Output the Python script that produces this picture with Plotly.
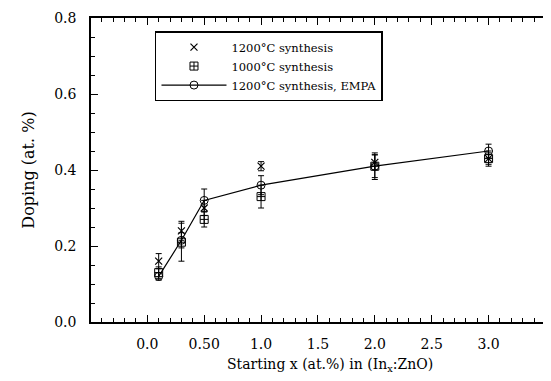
import plotly.graph_objects as go

# ---- data ----
x_vals = [0.1, 0.3, 0.5, 1.0, 2.0, 3.0]

s1200_y = [0.16, 0.24, 0.30, 0.41, 0.42, 0.43]
s1200_err = [0.02, 0.025, 0.02, 0.012, 0.02, 0.015]

s1000_y = [0.13, 0.21, 0.27, 0.33, 0.41, 0.43]
s1000_err = [0.015, 0.05, 0.02, 0.03, 0.03, 0.02]

empa_y = [0.12, 0.215, 0.32, 0.36, 0.41, 0.45]
empa_err = [0.01, 0.02, 0.03, 0.025, 0.035, 0.018]

x_tickvals = [0.0, 0.5, 1.0, 1.5, 2.0, 2.5, 3.0]
x_ticktext = ["0.0", "0.50", "1.0", "1.5", "2.0", "2.5", "3.0"]
y_tickvals = [0.0, 0.2, 0.4, 0.6, 0.8]
y_ticktext = ["0.0", "0.2", "0.4", "0.6", "0.8"]
right_tickvals = [0.05, 0.2, 0.35, 0.5, 0.65, 0.8]

FONT = "DejaVu Serif"
X_RANGE = [-0.495, 3.54]
Y_RANGE = [0.0, 0.8]

fig = go.Figure()


def err(arr):
    return dict(type="data", array=arr, visible=True, color="black",
                thickness=1, width=3)


fig.add_trace(go.Scatter(
    x=x_vals, y=s1200_y, mode="markers", name="1200°C synthesis",
    marker=dict(symbol="x-thin-open", size=7, color="black",
                line=dict(width=1.2, color="black")),
    error_y=err(s1200_err)))

fig.add_trace(go.Scatter(
    x=x_vals, y=s1000_y, mode="markers", name="1000°C synthesis",
    marker=dict(symbol="square-cross-open", size=8, color="black",
                line=dict(width=1, color="black")),
    error_y=err(s1000_err)))

fig.add_trace(go.Scatter(
    x=x_vals, y=empa_y, mode="lines+markers", name="1200°C synthesis, EMPA",
    line=dict(color="black", width=1.2),
    marker=dict(symbol="circle-open", size=8, color="black",
                line=dict(width=1, color="black")),
    error_y=err(empa_err)))

# invisible helper trace so the top / right frame axes are drawn
fig.add_trace(go.Scatter(
    x=x_vals, y=empa_y, mode="markers", xaxis="x2", yaxis="y2",
    marker=dict(opacity=0), showlegend=False, hoverinfo="skip"))

axis_common = dict(showgrid=False, zeroline=False, showline=True,
                   linecolor="black", linewidth=1.5, ticks="inside",
                   ticklen=7, tickwidth=1, tickcolor="black")

fig.update_layout(
    width=543, height=365,
    margin=dict(l=83, r=1, t=10, b=51),
    paper_bgcolor="white", plot_bgcolor="white",
    font=dict(family=FONT, size=14, color="black"),
    showlegend=True,
    legend=dict(x=0.1394, y=0.957, xanchor="left", yanchor="top",
                bordercolor="black", borderwidth=1.5, bgcolor="white",
                font=dict(family=FONT, size=11.5, color="black"),
                itemwidth=65, tracegroupgap=0),
    xaxis=dict(range=X_RANGE, tickvals=x_tickvals, ticktext=x_ticktext,
               minor=dict(dtick=0.1, tick0=0, ticks="inside", ticklen=4,
                          tickcolor="black", showgrid=False),
               tickfont=dict(size=14), ticklabelstandoff=8, **axis_common),
    yaxis=dict(range=Y_RANGE, tickvals=y_tickvals, ticktext=y_ticktext,
               minor=dict(dtick=0.05, tick0=0, ticks="inside", ticklen=4,
                          tickcolor="black", showgrid=False),
               title=dict(text="Doping (at. %)", font=dict(size=16), standoff=16),
               tickfont=dict(size=14), ticklabelstandoff=10, **axis_common),
    xaxis2=dict(range=X_RANGE, overlaying="x", side="top", anchor="y",
                tickvals=x_tickvals, showticklabels=False,
                minor=dict(dtick=0.1, tick0=0, ticks="inside", ticklen=4,
                           tickcolor="black", showgrid=False),
                **axis_common),
    yaxis2=dict(range=Y_RANGE, overlaying="y", side="right", anchor="x",
                tickvals=right_tickvals, showticklabels=False,
                minor=dict(dtick=0.0375, tick0=0.05, ticks="inside", ticklen=4,
                           tickcolor="black", showgrid=False),
                **axis_common),
    annotations=[dict(text="Starting x (at.%) in (In<sub>x</sub>:ZnO)",
                      xref="paper", yref="paper", x=0.521, y=0,
                      xanchor="center", yanchor="top", yshift=-32,
                      showarrow=False, font=dict(family=FONT, size=14))],
)

fig.write_html("out.html")
